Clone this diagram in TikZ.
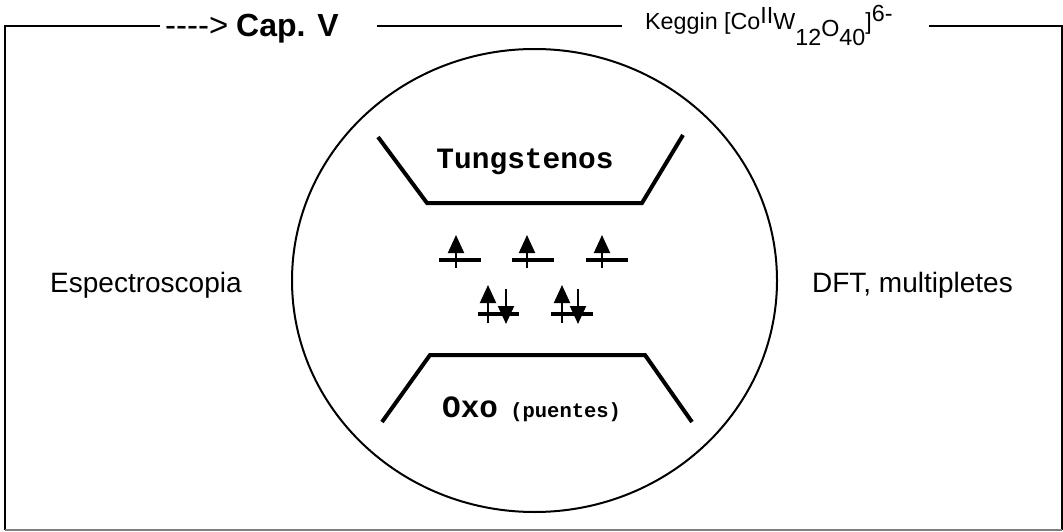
\documentclass[tikz,border=0pt]{standalone}
\usepackage{fontspec}
\setmainfont{Liberation Sans}
\newfontfamily\courierfont{Liberation Mono}
\usetikzlibrary{arrows.meta}
\definecolor{frame-gray}{HTML}{7F7F7F}

\begin{document}
\begin{tikzpicture}[x=1pt, y=-1pt,
      every node/.style={inner sep=0pt, font=\fontsize{28}{34}\selectfont},
      wall/.style={line width=4pt},
      orbital/.style={line width=4pt},
      spin/.style={line width=2pt, -{Triangle[width=16pt,length=18pt]}}]
    \useasboundingbox (0,0) rectangle (1063,532);
    \coordinate (tl) at (5,26);
    \coordinate (tr) at (1062,26);
    \coordinate (bl) at (5,530);
    \coordinate (br) at (1062,530);
    \node[anchor=base west] (cap) at (165,37)
      {{\fontsize{33}{38}\selectfont -{}-{}-{}-{}>} \textbf{\fontsize{32}{38}\selectfont Cap. V}};
    \node[anchor=base west, font=\fontsize{23.3}{28}\selectfont] (keg) at (645,30)
      {Keggin [Co\raisebox{6pt}{II}W\raisebox{-16pt}{12}\raisebox{-7pt}{O}\raisebox{-16pt}{40}]\raisebox{8pt}{6-}};
    \draw[line width=1.5pt] ([xshift=-5pt]cap.west |- tl) -- (tl) -- (bl);
    \draw[line width=1.5pt] ([xshift=36pt]keg.east |- tr) -- (tr) -- (br);
    \draw[line width=1.5pt] ([xshift=38pt]cap.east |- tl) -- ([xshift=-23pt]keg.west |- tl);
    \draw[frame-gray, line width=1.5pt] (bl) -- (br);
    \node[anchor=base west] (esp) at (50,292) {Espectroscopia};
    \node[anchor=base east] (dft) at (1013,292) {DFT, multipletes};
    \draw[line width=2pt] (534.5,280.5) ellipse (242.5 and 231.5);
    \draw[wall] (378,137) -- (427,203) -- (642,203) -- (683,135);
    \draw[wall] (382,422) -- (430,355) -- (645,355) -- (692,422);
    \node[anchor=base, font=\courierfont\bfseries\fontsize{29.5}{34}\selectfont]
      (tung) at (525,168) {Tungstenos};
    \node[anchor=base west, font=\courierfont\bfseries\fontsize{31}{36}\selectfont]
      (oxo) at (442,417) {Oxo{\fontsize{20.5}{25}\selectfont\ (puentes)}};
    \draw[orbital] (439,260) -- (481,260);
    \draw[orbital] (512,260) -- (554,260);
    \draw[orbital] (586,260) -- (628,260);
    \draw[orbital] (478,314) -- (519,314);
    \draw[orbital] (551,314) -- (593,314);
    \draw[spin] (456,268) -- (456,235);
    \draw[spin] (527,268) -- (527,235);
    \draw[spin] (602,268) -- (602,235);
    \draw[spin] (488,323) -- (488,285);
    \draw[spin] (506,289) -- (506,324);
    \draw[spin] (562,323) -- (562,285);
    \draw[spin] (578,289) -- (578,324);
  \end{tikzpicture}
\end{document}
